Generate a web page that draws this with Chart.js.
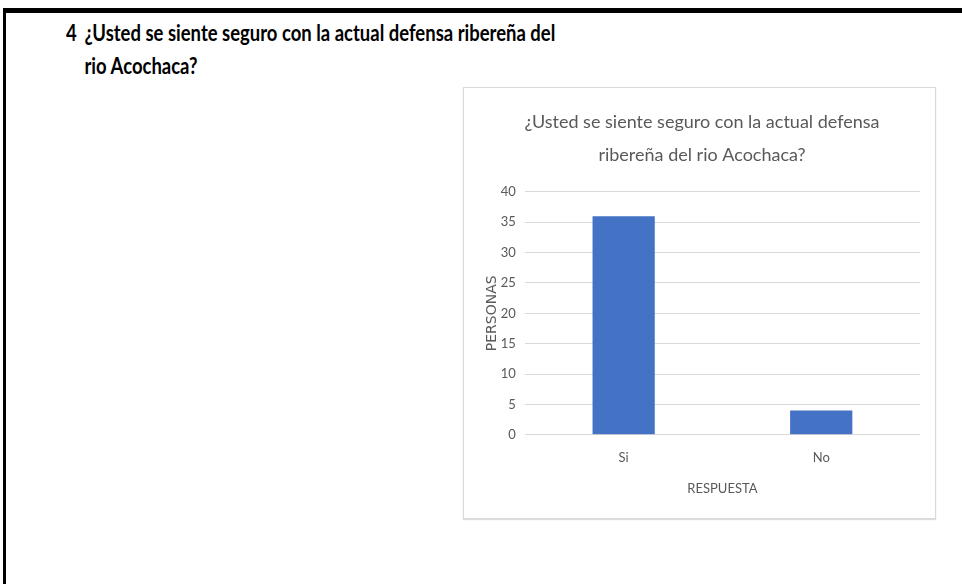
<!DOCTYPE html>
<html>
<head>
<meta charset="utf-8">
<script src="https://cdn.jsdelivr.net/npm/chart.js@4/dist/chart.umd.min.js"></script>
<style>
  body { margin: 0; background: #fff; width: 962px; height: 584px; overflow: hidden; position: relative; }
  #bordeTop { position: absolute; left: 3px; top: 8px; width: 959px; height: 5px; background: #000; }
  #bordeIzq { position: absolute; left: 3px; top: 8px; width: 3px; height: 576px; background: #000; }
  #pregunta {
    position: absolute; left: 66px; top: 16px; white-space: nowrap;
    font-family: Lato, sans-serif;
    font-weight: bold; font-size: 22px; line-height: 33px; color: #000;
    transform-origin: 0 0; transform: scaleX(0.84);
  }
  #pregunta .num { display: inline-block; width: 22px; }
  #pregunta .l2 { padding-left: 22px; }
  #caja {
    position: absolute; left: 463px; top: 87px; width: 471px; height: 430px;
    border: 1px solid #d9d9d9; box-shadow: 0 1px 1px #ddd;
  }
</style>
</head>
<body>
<div id="bordeTop"></div>
<div id="bordeIzq"></div>
<div id="pregunta"><span class="num">4</span>¿Usted se siente seguro con la actual defensa ribereña del<br><span class="l2">rio Acochaca?</span></div>
<div id="caja"><canvas id="bar"></canvas></div>
<script>
// Datos del grafico
const categorias = ["Si", "No"];
const personas = [36, 4];
const tituloLineas = ["¿Usted se siente seguro con la actual defensa", "ribereña del rio Acochaca?"];

const fuente = "Lato, sans-serif";
const gris = "#595959";

const dataBar = {
  labels: categorias,
  datasets: [
    {
      label: "PERSONAS",
      data: personas,
      backgroundColor: "#4472c4",
      borderWidth: 0,
      barPercentage: 0.63,
      categoryPercentage: 0.5,
    },
  ],
};

const configBar = {
  type: "bar",
  data: dataBar,
  options: {
    responsive: true,
    maintainAspectRatio: false,
    animation: false,
    layout: { padding: { left: 20, right: 15, top: 9, bottom: 17 } },
    scales: {
      x: {
        grid: { display: false, drawTicks: false },
        border: { display: false },
        ticks: { color: gris, font: { family: fuente, size: 13 }, padding: 15 },
        title: { display: true, text: "RESPUESTA", color: gris, font: { family: fuente, size: 13 }, padding: { top: 1 } },
      },
      y: {
        min: 0,
        max: 40,
        afterFit: (scale) => { scale.width = scale.width - 9; }, // angosta el eje para acercar la grilla
        ticks: { stepSize: 5, color: gris, font: { family: fuente, size: 13 }, padding: 9 },
        grid: { color: "#d9d9d9", drawTicks: false },
        border: { display: false },
        title: { display: true, text: "PERSONAS", color: gris, font: { family: "'DejaVu Sans', sans-serif", size: 14 }, padding: 0 },
      },
    },
    plugins: {
      legend: { display: false },
      tooltip: { enabled: false },
      title: {
        display: true,
        text: tituloLineas,
        color: gris,
        font: { family: fuente, size: 18, weight: "normal", lineHeight: 1.83 },
        padding: { top: 9, bottom: 20 },
      },
    },
  },
};

new Chart(document.getElementById("bar"), configBar);
</script>
</body>
</html>
